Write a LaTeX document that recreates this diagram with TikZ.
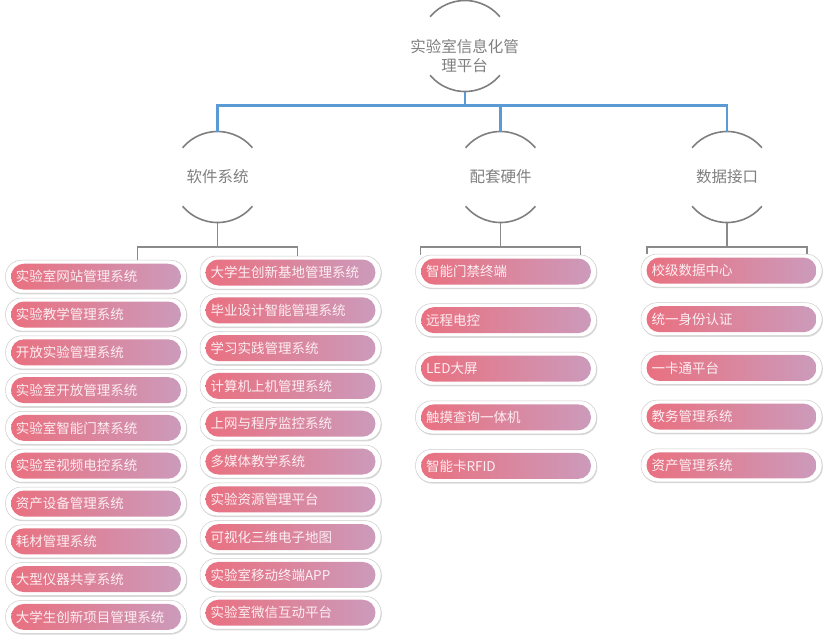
\documentclass[tikz,border=0pt]{standalone}
\usepackage{fontspec}
\newfontfamily\cjk{Noto Sans CJK SC}
\usetikzlibrary{calc,shadows}
\definecolor{hubgray}{HTML}{7F7F7F}
\definecolor{linkblue}{HTML}{5B9BD5}
\definecolor{bargray}{HTML}{8A8A8A}
\definecolor{pillL}{HTML}{EA6F7E}
\definecolor{pillR}{HTML}{CB9CBD}
\definecolor{pilltext}{HTML}{FDEEF2}
\tikzset{
	hub/.style={circle, minimum size=91pt, inner sep=0pt, outer sep=0pt, text=hubgray, align=center, font=\cjk\fontsize{15.5}{18.3}\selectfont},
	arcline/.style={line width=1.6pt, draw=hubgray},
	link/.style={line width=2.2pt, draw=linkblue},
	bracket/.style={line width=1.6pt, draw=bargray},
	pill/.style={rounded corners=16pt, fill=white, draw=black!20, line width=0.5pt,
		minimum width=181pt, minimum height=33pt, text width=160pt, inner xsep=10.5pt, inner ysep=0pt,
		align=left, text=pilltext, font=\cjk\fontsize{13.5}{16}\selectfont,
		drop shadow={shadow xshift=0.8pt, shadow yshift=-1.2pt, opacity=0.3},
		path picture={\shade[left color=pillL, right color=pillR, rounded corners=13pt]
			([xshift=5.5pt, yshift=3.5pt]path picture bounding box.south west) rectangle
			([xshift=-5.5pt, yshift=-3.5pt]path picture bounding box.north east);}}
}

\begin{document}
\begin{tikzpicture}[x=1pt, y=-1pt]
			%%%%% START %%%%%
			\useasboundingbox (0, 0) rectangle (828, 638);
			
			\node[hub] (top) at (465, 46) {};
			\node[hub, minimum size=0pt] (toptext) at (464.5, 56) {实验室信息化管\\理平台};
			
			\node[hub] (soft) at (217.5, 177) {软件系统};
			\node[hub] (hw) at (500.5, 177) {配套硬件};
			\node[hub] (data) at (727, 177) {数据接口};
			
			\draw[arcline] (top.40) arc[start angle=40, end angle=140, radius=45.5pt];
			\draw[arcline] (top.220) arc[start angle=220, end angle=320, radius=45.5pt];
			\draw[arcline] (soft.40) arc[start angle=40, end angle=140, radius=45.5pt];
			\draw[arcline] (soft.220) arc[start angle=220, end angle=320, radius=45.5pt];
			\draw[arcline] (hw.40) arc[start angle=40, end angle=140, radius=45.5pt];
			\draw[arcline] (hw.220) arc[start angle=220, end angle=320, radius=45.5pt];
			\draw[arcline] (data.40) arc[start angle=40, end angle=140, radius=45.5pt];
			\draw[arcline] (data.220) arc[start angle=220, end angle=320, radius=45.5pt];
			
			\coordinate (hubbar) at (465, 105.5);
			\draw[link] (top.south) -- (hubbar);
			\draw[link] (soft.north) |- (hubbar) -| (data.north);
			\draw[link] (hw.north) -- (hw.north |- hubbar);
			
			%%%%% software %%%%%
			\node[pill] (l1) at (96, 276.7) {实验室网站管理系统};
			\node[pill] (l2) at (96, 314.5) {实验教学管理系统};
			\node[pill] (l3) at (96, 352.3) {开放实验管理系统};
			\node[pill] (l4) at (96, 390.1) {实验室开放管理系统};
			\node[pill] (l5) at (96, 427.9) {实验室智能门禁系统};
			\node[pill] (l6) at (96, 465.7) {实验室视频电控系统};
			\node[pill] (l7) at (96, 503.5) {资产设备管理系统};
			\node[pill] (l8) at (96, 541.3) {耗材管理系统};
			\node[pill] (l9) at (96, 579.1) {大型仪器共享系统};
			\node[pill] (l10) at (96, 616.9) {大学生创新项目管理系统};
			
			\node[pill] (r1) at (290.5, 272.5) {大学生创新基地管理系统};
			\node[pill] (r2) at (290.5, 310.3) {毕业设计智能管理系统};
			\node[pill] (r3) at (290.5, 348.1) {学习实践管理系统};
			\node[pill] (r4) at (290.5, 385.9) {计算机上机管理系统};
			\node[pill] (r5) at (290.5, 423.7) {上网与程序监控系统};
			\node[pill] (r6) at (290.5, 461.5) {多媒体教学系统};
			\node[pill] (r7) at (290.5, 499.3) {实验资源管理平台};
			\node[pill] (r8) at (290.5, 537.1) {可视化三维电子地图};
			\node[pill] (r9) at (290.5, 574.9) {实验室移动终端APP};
			\node[pill] (r10) at (290.5, 612.7) {实验室微信互动平台};
			
			%%%%% hardware %%%%%
			\node[pill] (h1) at (506, 271.5) {智能门禁终端};
			\node[pill] (h2) at (506, 320.1) {远程电控};
			\node[pill] (h3) at (506, 368.7) {LED大屏};
			\node[pill] (h4) at (506, 417.3) {触摸查询一体机};
			\node[pill] (h5) at (506, 465.9) {智能卡RFID};
			
			%%%%% data %%%%%
			\node[pill] (d1) at (731.5, 270.5) {校级数据中心};
			\node[pill] (d2) at (731.5, 319.2) {统一身份认证};
			\node[pill] (d3) at (731.5, 367.9) {一卡通平台};
			\node[pill] (d4) at (731.5, 416.6) {教务管理系统};
			\node[pill] (d5) at (731.5, 465.3) {资产管理系统};
			
			%%%%% brackets %%%%%
			\coordinate (softL) at ([xshift=-80pt, yshift=-24.5pt]soft.south);
			\coordinate (softR) at ([xshift=80pt, yshift=-24.5pt]soft.south);
			\draw[bracket] (soft.south) -- (soft.south |- softL);
			\draw[bracket] (softL |- l1.north) -- (softL) -- (softR) -- (softR |- r1.north);
			
			\coordinate (hwL) at ([xshift=-80pt, yshift=-24.5pt]hw.south);
			\coordinate (hwR) at ([xshift=80pt, yshift=-24.5pt]hw.south);
			\draw[bracket] (hw.south) -- (hw.south |- hwL);
			\draw[bracket] (hwL |- h1.north) -- (hwL) -- (hwR) -- (hwR |- h1.north);
			
			\coordinate (dataL) at ([xshift=-80pt, yshift=-24.5pt]data.south);
			\coordinate (dataR) at ([xshift=80pt, yshift=-24.5pt]data.south);
			\draw[bracket] (data.south) -- (data.south |- dataL);
			\draw[bracket] (dataL |- d1.north) -- (dataL) -- (dataR) -- (dataR |- d1.north);
			
			%%%%% END %%%%%
\end{tikzpicture}
\end{document}
